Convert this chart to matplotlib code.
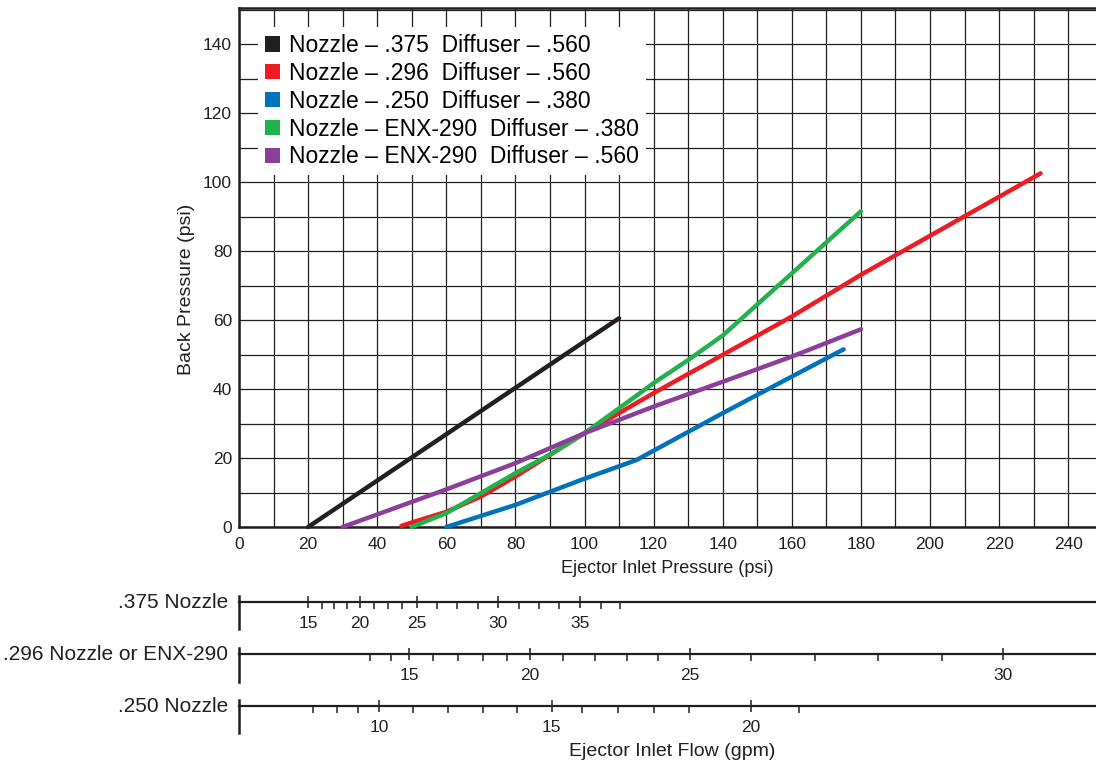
import numpy as np
import matplotlib
matplotlib.use("Agg")
import matplotlib.pyplot as plt
from matplotlib.patches import Patch
from matplotlib.ticker import MultipleLocator, FixedLocator

plt.rcParams['font.family'] = ['Liberation Sans', 'DejaVu Sans']

# curves: ejector inlet pressure (psi) vs back pressure (psi)
black_x = [20, 110]
black_y = [0, 60.5]
red_x = [47, 50, 60, 70, 80, 90, 100, 110, 120, 140, 160, 180, 232]
red_y = [0.3, 1.3, 4.4, 8.8, 14.6, 20.9, 27.2, 33.0, 38.8, 49.9, 61.0, 73.1, 102.5]
blue_x = [60, 80, 100, 115, 140, 160, 175]
blue_y = [0, 6.4, 14.0, 19.4, 33.0, 43.6, 51.5]
green_x = [50, 60, 70, 80, 90, 100, 110, 120, 130, 140, 160, 180]
green_y = [0, 4.0, 9.8, 15.6, 21.0, 27.2, 34.4, 41.7, 48.4, 55.5, 73.5, 91.5]
purple_x = [30, 60, 80, 100, 120, 140, 160, 180]
purple_y = [0, 10.9, 18.5, 27.2, 34.9, 42.1, 49.4, 57.3]

labels = ["Nozzle \u2013 .375  Diffuser \u2013 .560",
          "Nozzle \u2013 .296  Diffuser \u2013 .560",
          "Nozzle \u2013 .250  Diffuser \u2013 .380",
          "Nozzle \u2013 ENX-290  Diffuser \u2013 .380",
          "Nozzle \u2013 ENX-290  Diffuser \u2013 .560"]
colors = ["#231f20", "#ed1c24", "#0072bc", "#22b14c", "#8b3f98"]

# flow scales: flow value (gpm) and where it sits on the pressure axis (psi)
flow375_major = [15, 20, 25, 30, 35]
psi375_major = [20.1, 35.0, 51.4, 75.0, 98.8]
psi375_minor = [23.9, 27.6, 31.3, 39.2, 43.2, 47.3, 57.2, 63.2, 69.1,
                81.0, 86.9, 92.7, 104.8, 110.3]
flow296_major = [15, 20, 25, 30]
psi296_major = [49.3, 84.2, 130.5, 221.0]
psi296_minor = [37.9, 43.9, 56.2, 63.5, 70.7, 77.5, 93.7, 103.0, 112.4,
                121.4, 148.1, 166.7, 185.0, 203.4]
flow250_major = [10, 15, 20]
psi250_major = [40.6, 90.5, 148.2]
psi250_minor = [21.5, 28.3, 34.5, 50.4, 60.6, 70.5, 80.5, 99.2, 109.8,
                120.0, 130.3, 162.2]

W, H = 1096, 765
fig = plt.figure(figsize=(W / 100, H / 100), dpi=100)
ink = "#231f20"
XMAX = 857 / 3.455

ax = fig.add_axes([239 / W, 238 / H, 857 / W, 519 / H])
ax.set_xlim(0, XMAX)
ax.set_ylim(0, 519 / 3.45)
ax.xaxis.set_major_locator(MultipleLocator(20))
ax.xaxis.set_minor_locator(MultipleLocator(10))
ax.yaxis.set_major_locator(MultipleLocator(20))
ax.yaxis.set_minor_locator(MultipleLocator(10))
ax.grid(which="both", color=ink, lw=0.9)
ax.set_axisbelow(True)
ax.tick_params(which="both", length=0, labelsize=12.5, colors=ink)
ax.tick_params(axis="x", pad=7)
ax.tick_params(axis="y", pad=5)
for s in ["left", "bottom", "top"]:
    ax.spines[s].set_linewidth(1.8)
    ax.spines[s].set_color(ink)
ax.spines["right"].set_visible(False)

series = [(black_x, black_y), (red_x, red_y), (blue_x, blue_y),
          (green_x, green_y), (purple_x, purple_y)]
for (xs, ys), c in zip(series, colors):
    ax.plot(xs, ys, color=c, lw=3.2, solid_capstyle="round", clip_on=False, zorder=3)

ax.set_xlabel("Ejector Inlet Pressure (psi)", fontsize=13, color=ink, labelpad=6)
ax.set_ylabel("Back Pressure (psi)", fontsize=14, color=ink)
ax.yaxis.set_label_coords(-0.051, 0.457)

handles = [Patch(facecolor=c, edgecolor="none") for c in colors]
leg = ax.legend(handles, labels, loc="upper left", bbox_to_anchor=(0.022, 0.963),
                fontsize=16.5, frameon=True, fancybox=False, framealpha=1,
                handlelength=0.65, handleheight=0.65, handletextpad=0.4,
                labelspacing=0.21, borderpad=0.3, borderaxespad=0)
leg.get_frame().set_edgecolor("none")
leg.get_frame().set_facecolor("white")
leg.set_zorder(5)

scales = [
    (".375 Nozzle", flow375_major, psi375_major, psi375_minor, 629, 33, 602),
    (".296 Nozzle or ENX-290", flow296_major, psi296_major, psi296_minor, 682, 34, 654),
    (".250 Nozzle", flow250_major, psi250_major, psi250_minor, 733, 33, 706),
]
for name, flows, pmaj, pmin, bot, hgt, line_y in scales:
    sa = fig.add_axes([239 / W, (H - bot) / H, 857 / W, hgt / H])
    sa.set_xlim(0, XMAX)
    sa.set_ylim(0, 1)
    sa.patch.set_visible(False)
    frac = (bot - line_y) / hgt
    for s in ["top", "right"]:
        sa.spines[s].set_visible(False)
    sa.spines["bottom"].set_position(("axes", frac))
    sa.spines["bottom"].set_linewidth(1.6)
    sa.spines["left"].set_linewidth(1.8)
    for s in ["bottom", "left"]:
        sa.spines[s].set_color(ink)
    sa.set_yticks([])
    sa.xaxis.set_major_locator(FixedLocator(pmaj))
    sa.xaxis.set_minor_locator(FixedLocator(pmin))
    sa.set_xticklabels([str(f) for f in flows])
    sa.tick_params(axis="x", which="major", direction="inout", length=9, width=1.1,
                   labelsize=12.5, colors=ink, pad=5.5)
    sa.tick_params(axis="x", which="minor", direction="out", length=5, width=1.1, colors=ink)
    sa.text(-11 / 857, frac, name, transform=sa.transAxes, ha="right", va="center",
            fontsize=15, color=ink)

fig.text(672 / W, 1 - 751 / H, "Ejector Inlet Flow (gpm)", ha="center", va="center",
         fontsize=14, color=ink)

fig.savefig("out.png", dpi=100)
